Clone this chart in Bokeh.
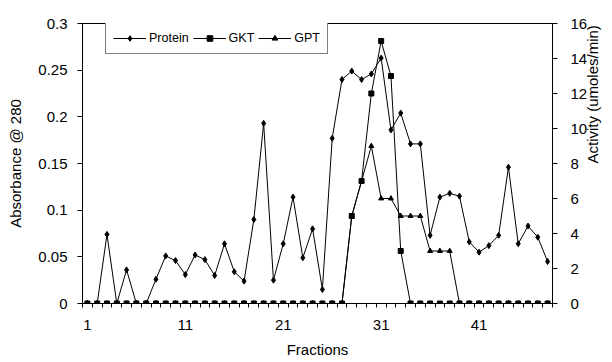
import math
from bokeh.plotting import figure
from bokeh.models import (Range1d, LinearAxis, FixedTicker, NumeralTickFormatter,
                          Legend, LegendItem, ColumnDataSource)
from bokeh.embed import file_html
from bokeh.resources import INLINE

# ---- data ----
fractions = list(range(1, 49))
x_tick_labels = [1, 11, 21, 31, 41]
protein = [0, 0, 0.074, 0, 0.036, 0, 0, 0.026, 0.051, 0.046,
           0.031, 0.052, 0.047, 0.030, 0.064, 0.034, 0.024, 0.090, 0.193, 0.025,
           0.064, 0.114, 0.049, 0.080, 0.015, 0.177, 0.240, 0.249, 0.240, 0.246,
           0.263, 0.186, 0.204, 0.171, 0.171, 0.073, 0.114, 0.118, 0.115, 0.066,
           0.055, 0.062, 0.073, 0.146, 0.064, 0.083, 0.071, 0.045]
gkt = [0, 0, 0, 0, 0, 0, 0, 0, 0, 0,
       0, 0, 0, 0, 0, 0, 0, 0, 0, 0,
       0, 0, 0, 0, 0, 0, 0, 5, 7, 12,
       15, 13, 3, 0, 0, 0, 0, 0, 0, 0,
       0, 0, 0, 0, 0, 0, 0, 0]
gpt = [0, 0, 0, 0, 0, 0, 0, 0, 0, 0,
       0, 0, 0, 0, 0, 0, 0, 0, 0, 0,
       0, 0, 0, 0, 0, 0, 0, 5, 7, 9,
       6, 6, 5, 5, 5, 3, 3, 3, 0, 0,
       0, 0, 0, 0, 0, 0, 0, 0]
left_ticks = [0, 0.05, 0.1, 0.15, 0.2, 0.25, 0.3]
right_ticks = [0, 2, 4, 6, 8, 10, 12, 14, 16]

src = ColumnDataSource(dict(x=fractions, protein=protein, gkt=gkt, gpt=gpt))

FONT = "Liberation Sans"
FS = "15px"

p = figure(width=612, height=362, output_backend="svg", toolbar_location=None,
           x_range=Range1d(0.5, 48.5), y_range=Range1d(0, 0.3),
           min_border_left=82, min_border_right=54, min_border_top=23, min_border_bottom=59)
p.extra_y_ranges = {"act": Range1d(0, 16)}
p.xgrid.visible = False
p.ygrid.visible = False
p.outline_line_color = "black"
p.outline_line_width = 1

def style_axis(ax):
    ax.axis_line_color = "black"
    ax.major_tick_line_color = "black"
    ax.major_label_text_font = FONT
    ax.major_label_text_font_size = FS
    ax.major_label_text_color = "black"
    ax.axis_label_text_font = FONT
    ax.axis_label_text_font_size = FS
    ax.axis_label_text_font_style = "normal"
    ax.axis_label_text_color = "black"
    ax.major_tick_in = 0

xa = p.xaxis[0]
style_axis(xa)
xa.ticker = FixedTicker(ticks=x_tick_labels, minor_ticks=[i + 0.5 for i in range(0, 49)])
xa.major_tick_line_color = None
xa.major_tick_out = 4
xa.minor_tick_in = 0
xa.minor_tick_out = 4
xa.minor_tick_line_color = "black"
xa.major_label_standoff = 12
xa.axis_label = "Fractions"
xa.axis_label_standoff = 8

ya = p.yaxis[0]
style_axis(ya)
ya.ticker = FixedTicker(ticks=left_ticks)
ya.formatter = NumeralTickFormatter(format="0.[00]")
ya.minor_tick_line_color = None
ya.major_tick_out = 5
ya.major_label_standoff = 10
ya.axis_label = "Absorbance @ 280"
ya.axis_label_standoff = 11

ra = LinearAxis(y_range_name="act", ticker=FixedTicker(ticks=right_ticks),
                axis_label="Activity (umoles/min)")
style_axis(ra)
ra.minor_tick_line_color = None
ra.major_tick_out = 5
ra.major_label_standoff = 13
ra.axis_label_standoff = 2
if "axis_label_orientation" in ra.properties():
    ra.axis_label_orientation = math.pi / 2
p.add_layout(ra, "right")

l1 = p.line("x", "protein", source=src, color="black", line_width=1)
s1 = p.scatter("x", "protein", source=src, marker="diamond", size=6, color="black")
l2 = p.line("x", "gkt", source=src, color="black", line_width=1, y_range_name="act")
s2 = p.scatter("x", "gkt", source=src, marker="square", size=5, color="black", y_range_name="act")
l3 = p.line("x", "gpt", source=src, color="black", line_width=1, y_range_name="act")
s3 = p.scatter("x", "gpt", source=src, marker="triangle", size=5, color="black", y_range_name="act")

legend = Legend(items=[LegendItem(label="Protein", renderers=[l1, s1]),
                       LegendItem(label="GKT", renderers=[l2, s2]),
                       LegendItem(label="GPT", renderers=[l3, s3])],
                orientation="horizontal", location=(23, 249),
                border_line_color="black", border_line_width=1,
                background_fill_color="white", background_fill_alpha=1,
                padding=7, spacing=4, glyph_width=33, glyph_height=14,
                label_standoff=3, label_height=16, margin=0,
                label_text_font=FONT, label_text_font_size="12.5px", label_text_color="black")
p.add_layout(legend)

open("out.html", "w").write(file_html(p, INLINE))
